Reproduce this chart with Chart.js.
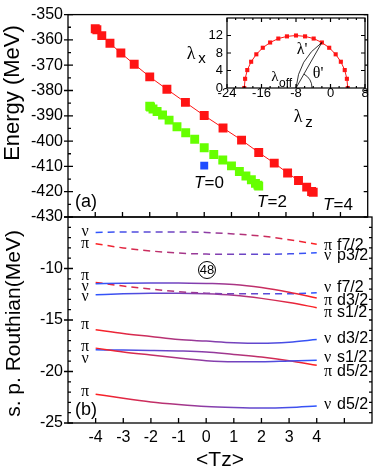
<!DOCTYPE html>
<html>
<head>
<meta charset="utf-8">
<title>Energy and s.p. Routhian vs Tz</title>
<script src="https://cdn.jsdelivr.net/npm/chart.js@4.4.1/dist/chart.umd.min.js"></script>
<style>
  html, body { margin: 0; padding: 0; background: #fff; }
  #fig { position: relative; width: 374px; height: 474px; overflow: hidden; }
  #fig canvas { position: absolute; }
</style>
</head>
<body>
<div id="fig">
  <canvas id="painelA" width="374" height="232" style="left:0;top:0"></canvas>
  <canvas id="painelB" width="374" height="274" style="left:0;top:200px"></canvas>
  <canvas id="inset" width="189" height="130" style="left:185px;top:4px"></canvas>
</div>
<script>
// painel (a): energia total ao longo do caminho em <Tz>
const tzT4 = [-4, -3.94, -3.76, -3.46, -3.06, -2.57, -2, -1.37, -0.69, 0, 0.69, 1.37, 2, 2.57, 3.06, 3.46, 3.76, 3.94, 4];
const eT4 = [-355.6, -356.0, -358.3, -361.3, -365.2, -369.6, -374.6, -379.5, -384.7, -389.9, -394.8, -399.6, -404.5, -408.7, -412.6, -415.6, -418.2, -419.9, -420.2];
const tzT2 = [-2, -1.97, -1.88, -1.73, -1.53, -1.29, -1, -0.68, -0.35, 0, 0.35, 0.68, 1, 1.29, 1.53, 1.73, 1.88, 1.97, 2];
const eT2 = [-386.2, -386.5, -387.3, -388.3, -389.7, -391.7, -394.3, -396.7, -399.3, -402.6, -405.3, -407.5, -409.8, -412.0, -413.8, -415.3, -416.7, -417.4, -417.8];
const tzT0 = [0];
const eT0 = [-409.7];
const energyTicks = [-430, -420, -410, -400, -390, -380, -370, -360, -350];

// inset: lambda_x vs lambda_z
const lamZ = [4, 3.8, 3.3, 2.4, 1.2, -0.3, -2, -3.9, -5.9, -8, -10.1, -12.1, -14, -15.7, -17.2, -18.4, -19.3, -19.8, -20];
const lamX = [0, 2.1, 4.1, 6.0, 7.7, 9.2, 10.4, 11.3, 11.8, 12, 11.8, 11.3, 10.4, 9.2, 7.7, 6.0, 4.1, 2.1, 0];
const lamZTicks = [-24, -16, -8, 0, 8];
const lamXTicks = [0, 4, 8, 12];

// painel (b): routhians de particula unica
const tzAxis = [-4, -3, -2, -1, 0, 1, 2, 3, 4];
const rouPiF72 = [-6.5, -6.45, -6.45, -6.45, -6.5, -6.65, -6.85, -7.2, -7.65];
const rouNuP32 = [-7.6, -8.0, -8.3, -8.5, -8.6, -8.62, -8.62, -8.58, -8.47];
const rouPiD32 = [-11.47, -11.42, -11.4, -11.4, -11.45, -11.55, -11.85, -12.3, -12.86];
const rouNuF72 = [-11.35, -11.7, -12.0, -12.25, -12.4, -12.45, -12.45, -12.45, -12.35];
const rouPiS12 = [-12.55, -12.45, -12.4, -12.4, -12.45, -12.6, -12.9, -13.3, -13.8];
const rouNuD32 = [-15.94, -16.3, -16.6, -16.9, -17.05, -17.2, -17.25, -17.15, -16.9];
const rouNuS12 = [-17.73, -18.1, -18.4, -18.7, -18.95, -19.05, -19.05, -18.97, -18.9];
const rouPiD52 = [-17.9, -17.92, -17.95, -18.0, -18.1, -18.35, -18.6, -18.95, -19.4];
const rouNuD52 = [-22.2, -22.6, -22.95, -23.2, -23.4, -23.5, -23.55, -23.5, -23.35];
const routhianTicks = [-25, -20, -15, -10];

const SANS = '"Liberation Sans", Arial, sans-serif';
const SERIF = '"Liberation Serif", "Times New Roman", serif';
const RED = '#ff1414', GREEN = '#66ff00', BLUE = '#1f4cff';
const LBLUE = '#2d55ff', MID = '#8c3ca6', LRED = '#ff2020';

Chart.defaults.font.family = SANS;
Chart.defaults.color = '#000';
Chart.defaults.devicePixelRatio = 1;

function pts(xs, ys) { return xs.map((x, i) => ({ x: x, y: ys[i] })); }
function range(a, b, step) { const r = []; for (let v = a; v <= b + 1e-9; v += step) r.push(+v.toFixed(6)); return r; }

// moldura + marcas para dentro
const framePlugin = {
  id: 'frame',
  beforeDraw(chart, args, o) {
    if (!o.fill) return;
    const { ctx, chartArea: a } = chart;
    ctx.save(); ctx.fillStyle = '#fff';
    ctx.fillRect(a.left, a.top, a.right - a.left, a.bottom - a.top);
    ctx.restore();
  },
  afterDatasetsDraw(chart, args, o) {
    const { ctx, chartArea: a, scales } = chart;
    ctx.save();
    ctx.strokeStyle = '#000';
    ctx.lineWidth = o.width || 1;
    ctx.beginPath();
    (o.marks || []).forEach(m => {
      const s = scales[m.axis];
      m.at.forEach(v => {
        const p = s.getPixelForValue(v);
        if (m.side === 'left') { ctx.moveTo(a.left - (m.out || 0), p); ctx.lineTo(a.left + m.len, p); }
        if (m.side === 'right') { ctx.moveTo(a.right, p); ctx.lineTo(a.right - m.len, p); }
        if (m.side === 'bottom') { ctx.moveTo(p, a.bottom); ctx.lineTo(p, a.bottom - m.len); }
        if (m.side === 'top') { ctx.moveTo(p, a.top); ctx.lineTo(p, a.top + m.len); }
      });
    });
    ctx.stroke();
    ctx.strokeRect(a.left, a.top, a.right - a.left, a.bottom - a.top);
    ctx.restore();
  }
};

function yTitle(ctx, text, x, y, size) {
  ctx.save();
  ctx.translate(x, y);
  ctx.rotate(-Math.PI / 2);
  ctx.font = size + 'px ' + SANS;
  ctx.textAlign = 'center';
  ctx.textBaseline = 'middle';
  ctx.fillText(text, 0, 0);
  ctx.restore();
}

function tLabel(ctx, num, cx, cy) {
  ctx.font = 'italic 17px ' + SANS;
  const w1 = ctx.measureText('T').width;
  ctx.font = '17px ' + SANS;
  const w2 = ctx.measureText('=' + num).width;
  const x0 = cx - (w1 + w2) / 2;
  ctx.textAlign = 'left';
  ctx.textBaseline = 'middle';
  ctx.font = 'italic 17px ' + SANS;
  ctx.fillText('T', x0, cy);
  ctx.font = '17px ' + SANS;
  ctx.fillText('=' + num, x0 + w1, cy);
}

// Painel (a)
new Chart(document.getElementById('painelA'), {
  type: 'scatter',
  data: {
    datasets: [
      { label: 'T=4', data: pts(tzT4, eT4), showLine: true, borderColor: RED, borderWidth: 1,
        backgroundColor: RED, pointStyle: 'rect', pointRadius: 6.3, pointBorderWidth: 0 },
      { label: 'T=2', data: pts(tzT2, eT2), backgroundColor: GREEN, borderColor: GREEN,
        pointStyle: 'rect', pointRadius: 6.3, pointBorderWidth: 0 },
      { label: 'T=0', data: pts(tzT0, eT0), backgroundColor: BLUE, borderColor: BLUE,
        pointStyle: 'rect', pointRadius: 5.6, pointBorderWidth: 0 }
    ]
  },
  options: {
    responsive: false,
    animation: false,
    layout: { padding: { top: 12, right: 2, bottom: 15, left: 0 } },
    plugins: {
      legend: { display: false },
      tooltip: { enabled: false },
      frame: {
        width: 1.3,
        marks: [
          { axis: 'y', side: 'left', at: energyTicks, len: 5, out: 4 },
          { axis: 'y', side: 'left', at: range(-425, -355, 10), len: 3 },
          { axis: 'y', side: 'right', at: energyTicks, len: 4 },
          { axis: 'x', side: 'bottom', at: range(-4, 5, 1), len: 5 }
        ]
      }
    },
    scales: {
      x: { type: 'linear', min: -5, max: 6, display: false },
      y: {
        min: -430, max: -350,
        afterBuildTicks: s => { s.ticks = energyTicks.map(v => ({ value: v })); },
        afterFit: s => { s.width = 68; },
        grid: { display: false, drawTicks: false },
        border: { display: false },
        ticks: { font: { size: 16 }, padding: 5 }
      }
    }
  },
  plugins: [framePlugin, {
    id: 'textosA',
    afterDraw(chart) {
      const ctx = chart.ctx;
      ctx.save();
      ctx.fillStyle = '#000';
      yTitle(ctx, 'Energy (MeV)', 13, 93, 22);
      tLabel(ctx, '0', 209, 183);
      tLabel(ctx, '2', 272, 202);
      tLabel(ctx, '4', 338, 205);
      ctx.font = '18px ' + SANS;
      ctx.textAlign = 'center';
      ctx.textBaseline = 'middle';
      ctx.fillText('(a)', 86, 202);
      ctx.restore();
    }
  }]
});

// Painel (b)
function gradiente(de, para) {
  return c => {
    const ch = c.chart;
    if (!ch.chartArea) return de;
    const x = ch.scales.x;
    const g = ch.ctx.createLinearGradient(x.getPixelForValue(-4), 0, x.getPixelForValue(4), 0);
    g.addColorStop(0, de);
    g.addColorStop(0.5, MID);
    g.addColorStop(1, para);
    return g;
  };
}

function nivel(valores, de, para, tracejado) {
  return {
    data: pts(tzAxis, valores),
    showLine: true,
    borderColor: gradiente(de, para),
    borderWidth: 1.5,
    borderDash: tracejado ? [7, 5] : [],
    cubicInterpolationMode: 'monotone',
    pointRadius: 0
  };
}

// rotulos: lado esquerdo (estado em Tz=-4) e direito (estado em Tz=4)
const rotEsq = [['ν', -6.45], ['π', -7.6], ['π', -10.7], ['ν', -11.75], ['ν', -12.7],
                ['π', -15.5], ['π', -17.6], ['ν', -18.8], ['π', -22.0]];
const rotDir = [['π', 'f7/2', -7.75], ['ν', 'p3/2', -8.79], ['ν', 'f7/2', -11.84], ['π', 'd3/2', -13.1],
                ['π', 's1/2', -14.32], ['ν', 'd3/2', -16.84], ['ν', 's1/2', -18.69], ['π', 'd5/2', -20.05],
                ['ν', 'd5/2', -23.25]];

new Chart(document.getElementById('painelB'), {
  type: 'scatter',
  data: {
    datasets: [
      nivel(rouPiF72, LBLUE, LRED, true),
      nivel(rouNuP32, LRED, LBLUE, true),
      nivel(rouPiD32, LBLUE, LRED, false),
      nivel(rouNuF72, LRED, LBLUE, true),
      nivel(rouPiS12, LBLUE, LRED, false),
      nivel(rouNuD32, LRED, LBLUE, false),
      nivel(rouNuS12, LRED, LBLUE, false),
      nivel(rouPiD52, LBLUE, LRED, false),
      nivel(rouNuD52, LRED, LBLUE, false)
    ]
  },
  options: {
    responsive: false,
    animation: false,
    layout: { padding: { top: 17, right: 2, bottom: 0, left: 0 } },
    plugins: {
      legend: { display: false },
      tooltip: { enabled: false },
      frame: {
        width: 1.3,
        marks: [
          { axis: 'y', side: 'left', at: range(-25, -5, 5), len: 5, out: 4 },
          { axis: 'y', side: 'left', at: range(-24, -6, 1), len: 3 },
          { axis: 'y', side: 'right', at: range(-24, -6, 1), len: 3 },
          { axis: 'x', side: 'bottom', at: range(-4, 5, 1), len: 5 }
        ]
      }
    },
    scales: {
      x: {
        type: 'linear', min: -5, max: 6,
        afterBuildTicks: s => { s.ticks = tzAxis.map(v => ({ value: v })); },
        afterFit: s => { s.height = 51; },
        grid: { display: false, drawTicks: false },
        border: { display: false },
        ticks: { font: { size: 16 }, padding: 5 },
        title: { display: true, text: '<Tz>', font: { size: 21 }, padding: { top: 0, bottom: 1 } }
      },
      y: {
        min: -25, max: -5,
        afterBuildTicks: s => { s.ticks = routhianTicks.map(v => ({ value: v })); },
        afterFit: s => { s.width = 68; },
        grid: { display: false, drawTicks: false },
        border: { display: false },
        ticks: { font: { size: 16 }, padding: 5 }
      }
    }
  },
  plugins: [framePlugin, {
    id: 'textosB',
    afterDraw(chart) {
      const { ctx, scales } = chart;
      ctx.save();
      ctx.fillStyle = '#000';
      yTitle(ctx, 's. p. Routhian(MeV)', 14, 123.5, 21);
      ctx.textBaseline = 'middle';
      ctx.textAlign = 'center';
      ctx.font = '16px ' + SERIF;
      rotEsq.forEach(r => ctx.fillText(r[0], 85, scales.y.getPixelForValue(r[1])));
      ctx.textAlign = 'left';
      rotDir.forEach(r => {
        const y = scales.y.getPixelForValue(r[2]);
        ctx.font = '16px ' + SERIF;
        ctx.fillText(r[0], 324, y);
        ctx.font = '16px ' + SANS;
        ctx.fillText(r[1], 337, y);
      });
      ctx.font = '18px ' + SANS;
      ctx.textAlign = 'center';
      ctx.fillText('(b)', 86, 210);
      // 48 circulado
      ctx.beginPath();
      ctx.lineWidth = 1;
      ctx.strokeStyle = '#000';
      ctx.arc(207, 70, 8.5, 0, Math.PI * 2);
      ctx.stroke();
      ctx.font = '13px ' + SANS;
      ctx.fillText('48', 207, 70.5);
      ctx.restore();
    }
  }]
});

// Inset
new Chart(document.getElementById('inset'), {
  type: 'scatter',
  data: {
    datasets: [{
      data: pts(lamZ, lamX), showLine: true, borderColor: RED, borderWidth: 1,
      backgroundColor: RED, pointStyle: 'rect', pointRadius: 2.9, pointBorderWidth: 0
    }]
  },
  options: {
    responsive: false,
    animation: false,
    layout: { padding: { top: 14, right: 9, bottom: 0, left: 0 } },
    plugins: {
      legend: { display: false },
      tooltip: { enabled: false },
      frame: {
        fill: true,
        width: 1.2,
        marks: [
          { axis: 'x', side: 'bottom', at: lamZTicks, len: 4 },
          { axis: 'x', side: 'bottom', at: range(-22, 6, 2), len: 2 },
          { axis: 'x', side: 'top', at: lamZTicks, len: 4 },
          { axis: 'x', side: 'top', at: range(-22, 6, 2), len: 2 },
          { axis: 'y', side: 'left', at: range(4, 12, 4), len: 4 },
          { axis: 'y', side: 'right', at: range(4, 12, 4), len: 4 }
        ]
      }
    },
    scales: {
      x: {
        type: 'linear', min: -24, max: 8,
        afterBuildTicks: s => { s.ticks = lamZTicks.map(v => ({ value: v })); },
        afterFit: s => { s.height = 46; },
        grid: { display: false, drawTicks: false },
        border: { display: false },
        ticks: { font: { size: 13, lineHeight: 0.9 }, padding: 0 }
      },
      y: {
        min: 0, max: 16,
        afterBuildTicks: s => { s.ticks = lamXTicks.map(v => ({ value: v })); },
        afterFit: s => { s.width = 42; },
        grid: { display: false, drawTicks: false },
        border: { display: false },
        ticks: { font: { size: 13 }, padding: 4 }
      }
    }
  },
  plugins: [framePlugin, {
    id: 'textosInset',
    afterDraw(chart) {
      const { ctx, scales } = chart;
      const x0 = scales.x.getPixelForValue(-8), y0 = scales.y.getPixelForValue(0);
      const x1 = scales.x.getPixelForValue(-2), y1 = scales.y.getPixelForValue(10.4);
      ctx.save();
      ctx.strokeStyle = '#000';
      ctx.lineWidth = 0.8;
      ctx.beginPath();
      ctx.moveTo(x0, y0); ctx.lineTo(x1, y1);
      const mx = (x0 + x1) / 2, my = (y0 + y1) / 2;
      const dx = x1 - x0, dy = y1 - y0, L = Math.hypot(dx, dy);
      ctx.moveTo(x0, y0);
      ctx.quadraticCurveTo(mx + dy / L * 12, my - dx / L * 12, x1, y1);
      ctx.stroke();
      ctx.beginPath();
      ctx.arc(x0, y0, 16, -Math.atan2(y0 - y1, x1 - x0), 0);
      ctx.stroke();
      ctx.fillStyle = '#000';
      ctx.textBaseline = 'middle';
      ctx.textAlign = 'center';
      ctx.font = '16px ' + SERIF;
      ctx.fillText("λ'", 117, 46);
      ctx.fillText("θ'", 133, 70);
      ctx.font = '15px ' + SERIF;
      ctx.fillText('λ', 90, 73);
      ctx.font = '12px ' + SANS;
      ctx.textAlign = 'left';
      ctx.fillText('off', 94, 80);
      // rotulos dos eixos
      ctx.textAlign = 'center';
      ctx.font = '18px ' + SERIF;
      ctx.fillText('λ', 6, 50);
      ctx.fillText('λ', 113, 113.5);
      ctx.font = '15px ' + SANS;
      ctx.fillText('x', 17, 55);
      ctx.fillText('z', 124, 118.5);
      ctx.restore();
    }
  }]
});
</script>
</body>
</html>
